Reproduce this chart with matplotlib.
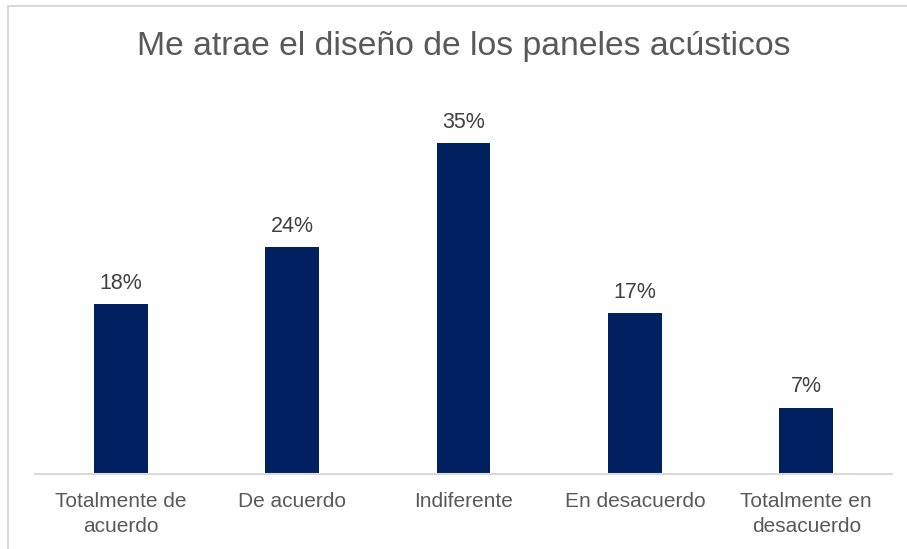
import matplotlib
matplotlib.use("Agg")
import matplotlib.pyplot as plt
from matplotlib.patches import Rectangle

categories = ["Totalmente de\nacuerdo", "De acuerdo", "Indiferente",
              "En desacuerdo", "Totalmente en\ndesacuerdo"]
shares = [18, 24, 35, 17, 7]          # percent
title = "Me atrae el diseño de los paneles acústicos"

BAR = "#002060"
TEXT = "#595959"
W, H = 907, 549

plt.rcParams["font.family"] = ["Liberation Sans", "DejaVu Sans"]

fig = plt.figure(figsize=(W / 100, H / 100), dpi=100)
fig.patch.set_facecolor("white")

# chart frame (light grey border, clipped on the right/bottom)
fig.patches.append(Rectangle((8 / W, -0.05), 1.2, 1 - 6 / H + 0.05,
                             transform=fig.transFigure, fill=False,
                             edgecolor="#d9d9d9", lw=1.5))

ax = fig.add_axes([35 / W, 1 - 474 / H, (892 - 35) / W, (474 - 96) / H])
x = range(len(categories))
ax.bar(x, shares, width=0.315, color=BAR)
for xi, v in zip(x, shares):
    ax.text(xi, v + 1.1, f"{v}%", ha="center", va="bottom",
            fontsize=15.5, color="#404040")

ax.set_xlim(-0.5, len(categories) - 0.5)
ax.set_ylim(0, 40)
ax.set_xticks(list(x))
ax.set_xticklabels(categories, fontsize=15, color=TEXT, linespacing=1.4)
ax.tick_params(axis="x", length=0, pad=13)
ax.set_yticks([])
for s in ("top", "right", "left"):
    ax.spines[s].set_visible(False)
ax.spines["bottom"].set_color("#d9d9d9")
ax.spines["bottom"].set_linewidth(1.5)

fig.text(464 / W, 1 - 47 / H, title, ha="center", va="center",
         fontsize=24.3, color=TEXT)

fig.savefig("out.png", dpi=100)
